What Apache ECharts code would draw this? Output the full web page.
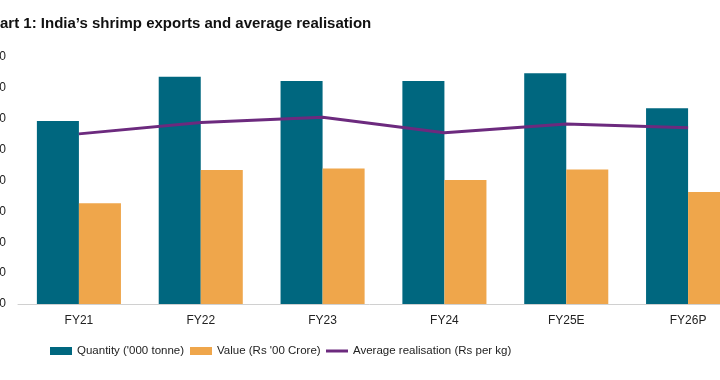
<!DOCTYPE html>
<html><head><meta charset="utf-8">
<script src="https://cdn.jsdelivr.net/npm/echarts@6/dist/echarts.min.js"></script>
<style>html,body{margin:0;padding:0;background:#fff}#c{width:720px;height:380px}</style>
</head><body><div id="c"></div>
<script>
var categories = ['FY21','FY22','FY23','FY24','FY25E','FY26P'];
var quantity = [593, 736, 722, 722, 747, 634];
var value = [326, 434, 439, 402, 436, 363];
var realisation = [551, 588, 605, 555, 583, 571];
var yTicks = [0, 100, 200, 300, 400, 500, 600, 700, 800];
var titleText = "Chart 1: India\u2019s shrimp exports and average realisation";
var names = ["Quantity ('000 tonne)", "Value (Rs '00 Crore)", "Average realisation (Rs per kg)"];

var chart = echarts.init(document.getElementById('c'), null, {renderer:'canvas'});
var font = '"Liberation Sans", Arial, sans-serif';
var legendText = {fontFamily: font, fontSize: 11.5, color: '#222'};
chart.setOption({
  animation: false,
  backgroundColor: '#fff',
  title: {text: titleText, left: -25, top: 11,
    textStyle: {fontFamily: font, fontSize: 15, fontWeight: 'bold', color: '#111'}},
  grid: {left: 18, right: -29, top: 57, bottom: 76, containLabel: false, outerBoundsMode: 'none'},
  legend: [
    {left: 50, top: 345, padding: 0, itemWidth: 22, itemHeight: 8, textStyle: legendText,
      data: [{name: names[0], icon: 'rect'}]},
    {left: 190, top: 345, padding: 0, itemWidth: 22, itemHeight: 8, textStyle: legendText,
      data: [{name: names[1], icon: 'rect'}]},
    {left: 326, top: 345, padding: 0, itemWidth: 22, itemHeight: 3, textStyle: legendText,
      data: [{name: names[2], icon: 'rect'}]}
  ],
  xAxis: {type: 'category', data: categories,
    axisLine: {lineStyle: {color: '#d0d0d0', width: 1}},
    axisTick: {show: false},
    axisLabel: {fontFamily: font, fontSize: 12, color: '#222', margin: 11}},
  yAxis: {type: 'value', min: yTicks[0], max: yTicks[yTicks.length-1], interval: 100,
    splitLine: {show: false}, axisLine: {show: false}, axisTick: {show: false},
    axisLabel: {fontFamily: font, fontSize: 12, color: '#222', margin: 12}},
  series: [
    {name: names[0], type: 'bar', data: quantity, barGap: '0%', barCategoryGap: '31%',
      itemStyle: {color: '#00677F'}},
    {name: names[1], type: 'bar', data: value, itemStyle: {color: '#EFA64B'}},
    {name: names[2], type: 'line', data: realisation, symbol: 'none',
      lineStyle: {color: '#6C2A7E', width: 3}, itemStyle: {color: '#6C2A7E'}}
  ]
});
</script></body></html>
